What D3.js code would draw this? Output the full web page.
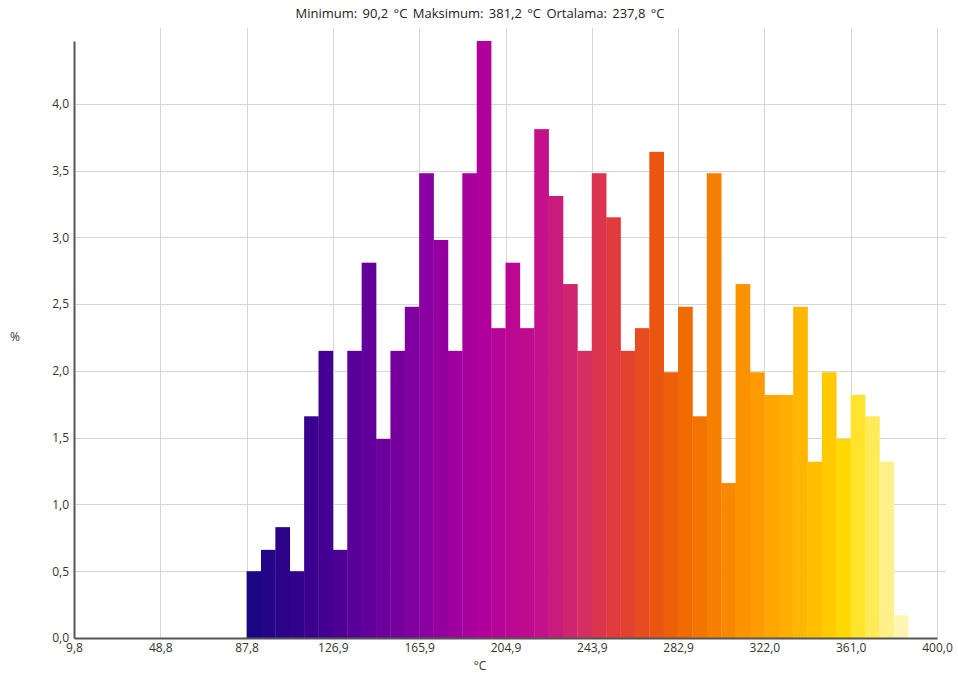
<!DOCTYPE html>
<html>
<head>
<meta charset="utf-8">
<script src="https://cdn.jsdelivr.net/npm/d3@7"></script>
<style>
  html, body { margin: 0; padding: 0; background: #fff; }
  svg { display: block; font-family: "Open Sans", "Noto Sans", sans-serif; }
</style>
</head>
<body>
<svg id="chart" width="958" height="675"></svg>
<script>
// Temperature histogram: share of pixels (%) per 6.5 °C bin
const titleText = "Minimum: 90,2 °C Maksimum: 381,2 °C Ortalama: 237,8 °C";
const binStart = 87.84;
const binWidth = 6.503;
const percents = [
  0.50, 0.66, 0.83, 0.50, 1.66, 2.15, 0.66, 2.15, 2.81, 1.49,
  2.15, 2.48, 3.48, 2.98, 2.15, 3.48, 4.47, 2.32, 2.81, 2.32,
  3.81, 3.31, 2.65, 2.15, 3.48, 3.15, 2.15, 2.32, 3.64, 1.99,
  2.48, 1.66, 3.48, 1.16, 2.65, 1.99, 1.82, 1.82, 2.48, 1.32,
  1.99, 1.49, 1.82, 1.66, 1.32, 0.17
];
const xTickValues = [9.8, 48.82, 87.84, 126.86, 165.88, 204.9, 243.92, 282.94, 321.96, 360.98, 400.0];
const yTickValues = [0, 0.5, 1.0, 1.5, 2.0, 2.5, 3.0, 3.5, 4.0];
// Thermal ("iron") palette: colour stops and where they sit along the bins (0..1)
const paletteColors = ["#1b0684", "#3a008e", "#62009c", "#8a00a0", "#b0009b", "#c4108a",
                       "#d42e62", "#e03a3c", "#ea5512", "#f06a00", "#f98800", "#ffa500",
                       "#ffbe00", "#ffd800", "#ffe32c", "#ffea58", "#fff08a", "#fff5b2"];
const palettePositions = [0, 4, 8, 12, 16, 20, 23, 25, 28, 30, 33, 36, 39, 41, 42, 43, 44, 45]
  .map(v => v / 45);

const svg = d3.select("#chart");
const plotLeft = 74, plotRight = 937, plotTop = 41, plotBottom = 638;

const x = d3.scaleLinear().domain([9.8, 400.0]).range([plotLeft, plotRight]);
const y = d3.scaleLinear().domain([0, 4.47]).range([plotBottom, plotTop]);

const colorScale = d3.scaleLinear()
  .domain(palettePositions)
  .range(paletteColors)
  .interpolate(d3.interpolateRgb);

const fmt = v => d3.format(".1f")(v).replace(".", ",");

// Grid
const grid = svg.append("g").attr("stroke", "#d6d6d6").attr("stroke-width", 1);
grid.selectAll("line.h").data(yTickValues.filter(v => v > 0)).join("line")
  .attr("x1", plotLeft).attr("x2", 946)
  .attr("y1", d => Math.round(y(d)) + 0.5).attr("y2", d => Math.round(y(d)) + 0.5);
grid.selectAll("line.v").data(xTickValues.slice(1)).join("line")
  .attr("x1", d => Math.round(x(d)) + 0.5).attr("x2", d => Math.round(x(d)) + 0.5)
  .attr("y1", 28).attr("y2", plotBottom);

// Bars
const bins = percents.map((p, i) => ({ x0: binStart + i * binWidth, x1: binStart + (i + 1) * binWidth, p, i }));
svg.append("g").selectAll("rect").data(bins).join("rect")
  .attr("x", d => x(d.x0))
  .attr("width", d => x(d.x1) - x(d.x0) + 0.3)
  .attr("y", d => y(d.p))
  .attr("height", d => y(0) - y(d.p))
  .attr("fill", d => colorScale(d.i / (bins.length - 1)));

// Axes
const xAxis = d3.axisBottom(x).tickValues(xTickValues).tickFormat(fmt).tickSize(0).tickPadding(5);
const gx = svg.append("g").attr("transform", `translate(0,${plotBottom})`).call(xAxis);
gx.select(".domain").attr("stroke", "#555").attr("stroke-width", 2);
gx.selectAll("text").attr("font-size", 12).attr("fill", "#333").attr("font-family", "Open Sans, sans-serif");

const yAxis = d3.axisLeft(y).tickValues(yTickValues).tickFormat(fmt).tickSize(0).tickPadding(5);
const gy = svg.append("g").attr("transform", `translate(${plotLeft},0)`).call(yAxis);
gy.select(".domain").attr("stroke", "#555").attr("stroke-width", 2);
gy.selectAll("text").attr("font-size", 12).attr("fill", "#333").attr("font-family", "Open Sans, sans-serif");

// Titles
svg.append("text").attr("x", 480).attr("y", 18).attr("text-anchor", "middle")
  .attr("font-size", 13).attr("word-spacing", 2).attr("fill", "#222").text(titleText);
svg.append("text").attr("x", 15).attr("y", 341).attr("text-anchor", "middle")
  .attr("font-size", 12).attr("fill", "#333").text("%");
svg.append("text").attr("x", 480).attr("y", 670).attr("text-anchor", "middle")
  .attr("font-size", 12).attr("fill", "#333").text("°C");
</script>
</body>
</html>
